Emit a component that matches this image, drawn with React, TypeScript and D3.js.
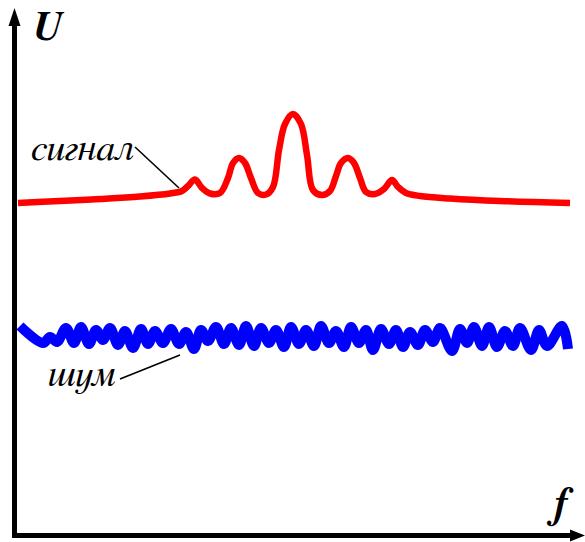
import React from "react";
import * as d3 from "d3";

const W = 585;
const H = 542;

// signal spectrum (arbitrary units)
const signalF = [0.3, 4.5, 8.5, 12.5, 15.5, 16.7, 17.3, 18.0, 18.7, 19.5, 20.5, 21.3, 21.8, 22.4, 23.0, 23.6, 24.3, 25.1, 25.8, 26.4, 27.0, 27.8, 28.6, 29.2, 29.8, 30.7, 31.5, 32.1, 32.6, 33.3, 33.9, 34.5, 35.1, 36.0, 36.9, 37.7, 38.3, 39.1, 40.5, 43.5, 48.5, 55.5];
const signalU = [33.2, 33.4, 33.6, 33.85, 34.15, 34.4, 34.9, 35.55, 34.7, 34.15, 34.2, 35.7, 37.2, 37.7, 37.2, 35.7, 34.2, 34.05, 34.8, 38.5, 41.1, 42.1, 41.1, 38.0, 34.5, 34.0, 34.4, 35.9, 37.2, 37.7, 37.2, 35.7, 34.3, 34.1, 34.6, 35.5, 34.8, 34.2, 33.9, 33.65, 33.4, 33.2];

// noise spectrum
const noiseF = [
  0.5, 2.8, 3.5, 4.2, 5.1, 5.9, 6.6, 7.4, 8.1, 8.8,
  9.5, 10.3, 11.0, 11.8, 12.6, 13.3, 14.0, 14.8, 15.6, 16.4,
  17.1, 17.9, 18.6, 19.3, 20.1, 20.9, 21.6, 22.4, 23.1, 23.9,
  24.6, 25.4, 26.1, 26.9, 27.6, 28.4, 29.1, 29.9, 30.6, 31.4,
  32.1, 32.9, 33.6, 34.4, 35.1, 35.8, 36.6, 37.4, 38.1, 38.8,
  39.5, 40.3, 41.0, 41.8, 42.5, 43.7, 44.5, 45.2, 45.9, 46.7,
  47.4, 48.2, 49.0, 49.8, 50.5, 51.6, 52.4, 53.2, 54.7, 55.3,
];
const noiseU = [
  20.9, 19.2, 19.8, 19.3, 20.7, 19.2, 20.8, 19.1, 20.5, 19.5,
  20.7, 19.0, 20.4, 18.7, 20.6, 19.1, 20.4, 19.2, 20.6, 19.1,
  20.3, 18.6, 20.5, 19.4, 20.8, 19.1, 20.7, 19.0, 20.9, 18.9,
  20.7, 19.2, 20.5, 18.8, 20.8, 19.1, 20.5, 18.9, 20.9, 19.2,
  20.4, 18.8, 20.8, 19.2, 20.5, 18.5, 20.6, 19.1, 20.5, 18.8,
  20.3, 19.0, 20.5, 19.3, 20.7, 18.4, 20.6, 19.2, 20.8, 18.9,
  20.8, 18.8, 20.4, 18.9, 20.7, 18.5, 20.5, 18.9, 20.9, 18.6,
];

const labels = { y: "U", x: "f", signal: "сигнал", noise: "шум" };

const serif = "FreeSerif, 'Liberation Serif', 'Times New Roman', serif";

export default function App() {
  const x = d3.scaleLinear().domain([0, 57]).range([15, 585]);
  const y = d3.scaleLinear().domain([0, 52]).range([535, 15]);

  const line = d3
    .line<[number, number]>()
    .x((d) => x(d[0]))
    .y((d) => y(d[1]))
    .curve(d3.curveCatmullRom.alpha(0.5));

  const sig = line(signalF.map((f, i) => [f, signalU[i]]) as [number, number][]) || "";
  const noi = line(noiseF.map((f, i) => [f, noiseU[i]]) as [number, number][]) || "";

  const x0 = x(0) - 0.5;
  const y0 = y(0) + 0.5;

  return (
    <svg
      width={W}
      height={H}
      style={{ position: "absolute", left: 0, top: 0, background: "#fff" }}
    >
      {/* axes */}
      <line x1={x0} y1={y0 + 2.5} x2={x0} y2={24} stroke="#000" strokeWidth={5} />
      <polygon points={`${x0},8 ${x0 - 6},26 ${x0 + 6},26`} fill="#000" />
      <line x1={x0 - 2.5} y1={y0} x2={572} y2={y0} stroke="#000" strokeWidth={5} />
      <polygon points={`585,${y0} 570,${y0 - 6} 570,${y0 + 6}`} fill="#000" />

      {/* curves */}
      <path d={noi} fill="none" stroke="#0000ff" strokeWidth={10} strokeLinejoin="round" strokeLinecap="butt" />
      <path d={sig} fill="none" stroke="#ff0000" strokeWidth={6.5} strokeLinejoin="round" strokeLinecap="butt" />

      {/* leader lines */}
      <line x1={135} y1={147} x2={179} y2={188} stroke="#000" strokeWidth={1.6} />
      <line x1={120} y1={379} x2={180} y2={355} stroke="#000" strokeWidth={1.6} />

      {/* labels */}
      <text x={32} y={40} style={{ fontFamily: serif, fontSize: 41, fontWeight: "bold", fontStyle: "italic" }}>{labels.y}</text>
      <text x={551} y={517} style={{ fontFamily: serif, fontSize: 43, fontWeight: "bold", fontStyle: "italic" }}>{labels.x}</text>
      <text x={31} y={160} style={{ fontFamily: serif, fontSize: 38, fontStyle: "italic" }}>{labels.signal}</text>
      <text x={48} y={386} style={{ fontFamily: serif, fontSize: 38, fontStyle: "italic" }}>{labels.noise}</text>
    </svg>
  );
}
